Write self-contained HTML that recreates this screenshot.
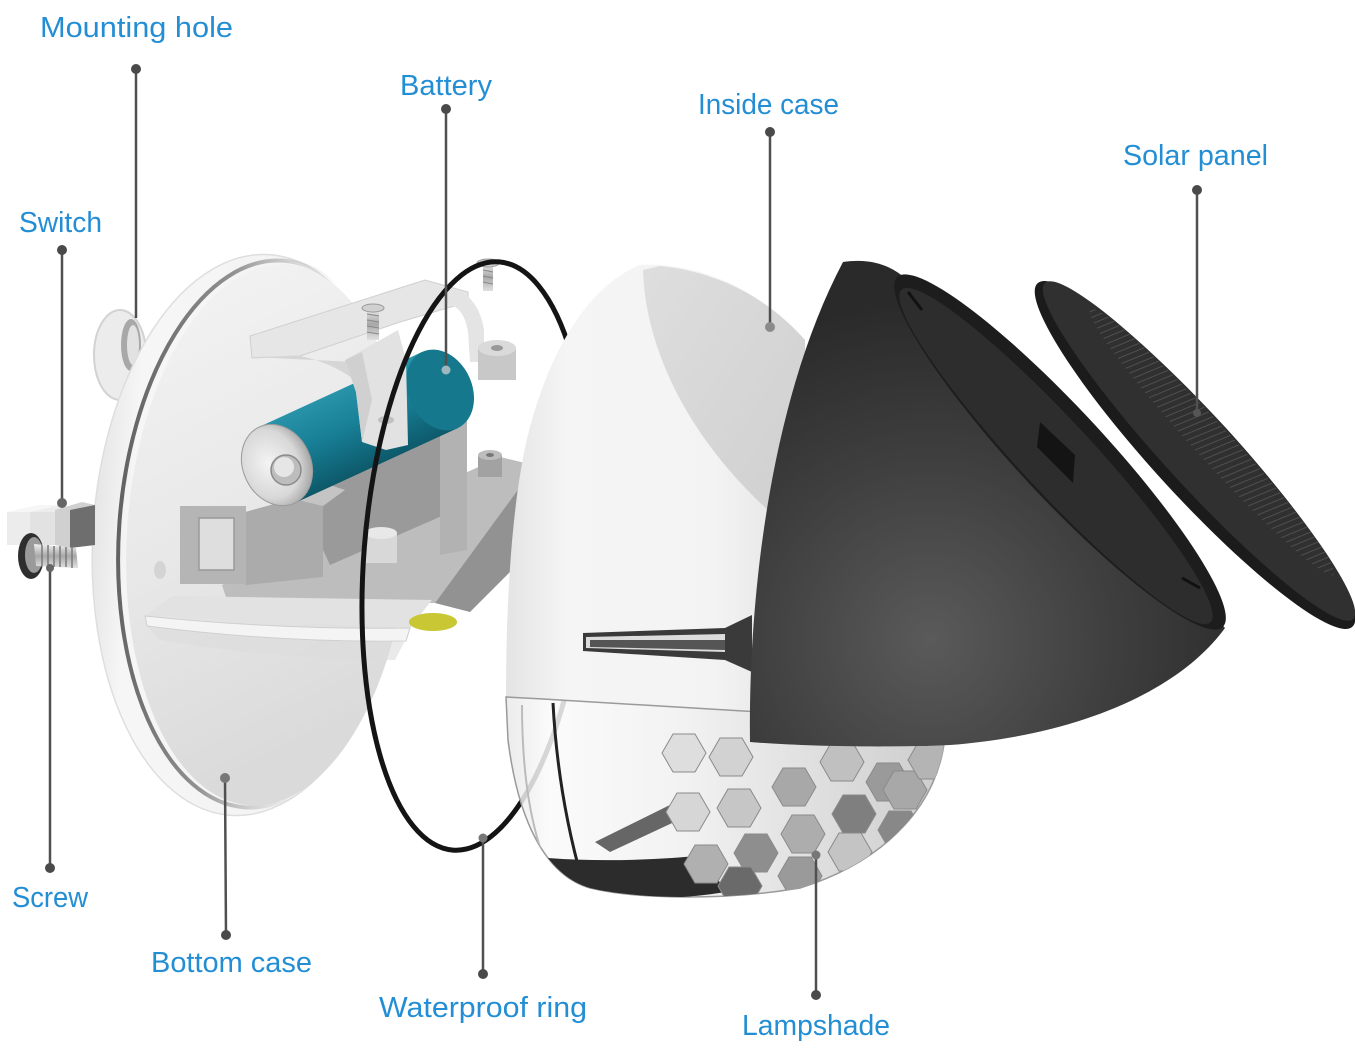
<!DOCTYPE html>
<html><head><meta charset="utf-8"><style>
html,body{margin:0;padding:0;background:#fff;}
svg{display:block;}
.lbl{font-family:"Liberation Sans",Arial,sans-serif;font-size:29px;fill:#238ed4;}
</style></head><body>
<svg width="1355" height="1057" viewBox="0 0 1355 1057" xmlns="http://www.w3.org/2000/svg">
<defs>
 <linearGradient id="discOuter" x1="0" y1="0" x2="1" y2="0">
  <stop offset="0" stop-color="#e6e6e6"/><stop offset="0.12" stop-color="#f6f6f6"/><stop offset="1" stop-color="#f1f1f1"/>
 </linearGradient>
 <linearGradient id="discFace" x1="0" y1="0" x2="0.3" y2="1">
  <stop offset="0" stop-color="#f4f4f4"/><stop offset="0.55" stop-color="#e8e8e8"/><stop offset="1" stop-color="#dadada"/>
 </linearGradient>
 <linearGradient id="groove" gradientUnits="userSpaceOnUse" x1="110" y1="0" x2="320" y2="0">
  <stop offset="0" stop-color="#5e5e5e"/><stop offset="0.5" stop-color="#858585" stop-opacity="0.9"/><stop offset="1" stop-color="#bbbbbb" stop-opacity="0"/>
 </linearGradient>
 <linearGradient id="teal" gradientUnits="userSpaceOnUse" x1="345" y1="380" x2="385" y2="470">
  <stop offset="0" stop-color="#2b97ad"/><stop offset="0.45" stop-color="#187f96"/><stop offset="1" stop-color="#0b5363"/>
 </linearGradient>
 <radialGradient id="cap" cx="0.4" cy="0.45" r="0.6">
  <stop offset="0" stop-color="#f4f4f4"/><stop offset="0.7" stop-color="#d8d8d8"/><stop offset="1" stop-color="#a9a9a9"/>
 </radialGradient>
 <linearGradient id="caseG" x1="0" y1="0" x2="1" y2="0">
  <stop offset="0" stop-color="#e4e4e4"/><stop offset="0.2" stop-color="#f5f5f5"/><stop offset="0.7" stop-color="#f3f3f3"/><stop offset="1" stop-color="#e2e2e2"/>
 </linearGradient>
 <linearGradient id="faceG" x1="0" y1="0" x2="1" y2="1">
  <stop offset="0" stop-color="#dedede"/><stop offset="1" stop-color="#cfcfcf"/>
 </linearGradient>
 <radialGradient id="shellG" gradientUnits="userSpaceOnUse" cx="930" cy="640" r="340">
  <stop offset="0" stop-color="#5a5a5a"/><stop offset="0.55" stop-color="#3e3e3e"/><stop offset="1" stop-color="#2a2a2a"/>
 </radialGradient>
 <linearGradient id="lampG" x1="0" y1="0" x2="1" y2="0">
  <stop offset="0" stop-color="#e8e8e8"/><stop offset="0.1" stop-color="#fafafa"/><stop offset="0.4" stop-color="#f0f0f0"/><stop offset="1" stop-color="#c4c4c4"/>
 </linearGradient>
 <linearGradient id="silver" x1="0" y1="0" x2="0" y2="1">
  <stop offset="0" stop-color="#f0f0f0"/><stop offset="0.5" stop-color="#a8a8a8"/><stop offset="1" stop-color="#e0e0e0"/>
 </linearGradient>
 <pattern id="solarPat" width="6" height="6" patternUnits="userSpaceOnUse" patternTransform="rotate(20)">
  <rect width="6" height="6" fill="#303030"/>
  <line x1="1" y1="0" x2="1" y2="6" stroke="#5a5a5a" stroke-width="0.8"/>
 </pattern>
 <clipPath id="lampClip">
  <path d="M506,697 C600,702 700,708 760,712 L945,735 C940,800 890,860 800,888 C730,900 640,900 590,888 C545,875 518,820 508,740 Z"/>
 </clipPath>
 <polygon id="hx" points="22,0 11,19 -11,19 -22,0 -11,-19 11,-19"/>
</defs>

<rect width="1355" height="1057" fill="#fff"/>

<!-- mounting hole loop -->
<ellipse cx="120" cy="355" rx="26" ry="45" fill="#ececec" stroke="#d2d2d2" stroke-width="2"/>
<ellipse cx="131" cy="345" rx="10" ry="26" fill="#a8a8a8"/>
<ellipse cx="133" cy="345" rx="6" ry="20" fill="#e2e2e2"/>

<!-- bottom case disc -->
<ellipse cx="250" cy="535" rx="157" ry="281" transform="rotate(4 250 535)" fill="url(#discOuter)" stroke="#dedede" stroke-width="1.5"/>
<ellipse cx="264" cy="534" rx="145" ry="274" transform="rotate(4 264 534)" fill="none" stroke="url(#groove)" stroke-width="4"/>
<ellipse cx="268" cy="535" rx="141" ry="271" transform="rotate(4 268 535)" fill="url(#discFace)"/>
<ellipse cx="160" cy="570" rx="6" ry="9" fill="#d4d4d4"/>

<!-- gray plate -->
<polygon points="222,585 500,457 525,463 525,480 435,603 228,603" fill="#bdbdbd"/>
<polygon points="435,603 525,480 522,560 470,612" fill="#929292"/>
<!-- area beneath battery -->
<polygon points="300,500 440,425 467,432 467,505 330,565" fill="#9a9a9a"/>
<!-- holder block -->
<polygon points="245,512 300,497 323,506 323,577 245,585" fill="#ababab"/>
<polygon points="290,498 330,485 345,490 323,506" fill="#c4c4c4"/>
<!-- square frame -->
<rect x="180" y="506" width="66" height="78" fill="#b5b5b5"/>
<rect x="199" y="518" width="35" height="52" fill="#dedede" stroke="#999" stroke-width="1.5"/>
<!-- right wall -->
<polygon points="440,425 467,420 467,550 440,555" fill="#b2b2b2"/>

<!-- battery -->
<polygon points="259,427 422,352 458,428 295,503" fill="url(#teal)"/>
<ellipse cx="440" cy="390" rx="32" ry="42" transform="rotate(-25 440 390)" fill="#15788d"/>
<ellipse cx="277" cy="465" rx="34" ry="42" transform="rotate(-25 277 465)" fill="url(#cap)" stroke="#9a9a9a" stroke-width="1"/>
<circle cx="286" cy="470" r="15" fill="#bdbdbd" stroke="#8a8a8a" stroke-width="1.5"/>
<circle cx="284" cy="467" r="10" fill="#e6e6e6"/>

<!-- boss pins -->
<rect x="365" y="533" width="32" height="30" fill="#d8d8d8"/>
<ellipse cx="381" cy="533" rx="16" ry="6" fill="#e8e8e8"/>
<rect x="478" y="455" width="24" height="22" fill="#a2a2a2"/>
<ellipse cx="490" cy="455" rx="12" ry="5" fill="#bdbdbd"/>
<ellipse cx="490" cy="455" rx="4" ry="2" fill="#777"/>

<!-- top bracket -->
<polygon points="250,336 425,280 468,292 468,302 400,322 300,356 252,358" fill="#e6e6e6" stroke="#cfcfcf" stroke-width="1"/>
<path d="M252,357 L300,356 C320,360 338,368 352,378 L355,362 Z" fill="#d6d6d6"/>
<polygon points="345,360 398,330 406,360 408,445 386,450 362,442 356,392" fill="#e2e2e2"/>
<polygon points="345,360 362,352 372,400 362,442 356,392" fill="#d0d0d0"/>
<ellipse cx="386" cy="420" rx="8" ry="4" fill="#c0c0c0"/>
<path d="M440,290 C462,284 480,302 484,330 L484,362 L470,362 L468,332 C465,312 456,303 440,303 Z" fill="#e4e4e4"/>
<rect x="478" y="348" width="38" height="32" fill="#c8c8c8"/>
<ellipse cx="497" cy="348" rx="19" ry="8" fill="#dadada"/>
<ellipse cx="497" cy="348" rx="6" ry="3" fill="#999"/>
<!-- screws -->
<rect x="367" y="308" width="12" height="32" fill="url(#silver)"/>
<g stroke="#888" stroke-width="1"><line x1="367" y1="314" x2="379" y2="316"/><line x1="367" y1="320" x2="379" y2="322"/><line x1="367" y1="326" x2="379" y2="328"/><line x1="367" y1="332" x2="379" y2="334"/></g>
<ellipse cx="373" cy="308" rx="11" ry="4" fill="#d0d0d0" stroke="#999"/>
<rect x="483" y="263" width="10" height="28" fill="url(#silver)"/>
<g stroke="#888" stroke-width="1"><line x1="483" y1="270" x2="493" y2="272"/><line x1="483" y1="276" x2="493" y2="278"/><line x1="483" y1="282" x2="493" y2="284"/></g>
<ellipse cx="488" cy="263" rx="11" ry="4" fill="#d0d0d0" stroke="#999"/>

<!-- white shelf -->
<polygon points="145,616 172,596 432,600 410,628" fill="#e2e2e2"/>
<path d="M145,616 Q280,630 410,628 L406,641 Q280,643 147,626 Z" fill="#f4f4f4" stroke="#cfcfcf" stroke-width="1"/>
<path d="M148,627 Q280,644 405,641 L395,660 Q280,660 160,640 Z" fill="#dcdcdc" opacity="0.6"/>
<!-- yellow bit -->
<ellipse cx="433" cy="622" rx="24" ry="9" fill="#c9c734"/>

<!-- waterproof ring -->
<ellipse cx="476" cy="556" rx="112" ry="295" transform="rotate(4.5 476 556)" fill="none" stroke="#141414" stroke-width="5"/>

<!-- inside case -->
<path d="M506,697 C506,600 512,480 535,410 C555,345 590,285 640,265 C700,262 760,290 805,340 L805,714 C700,712 600,702 506,697 Z" fill="url(#caseG)"/>
<path d="M643,270 C645,340 680,430 770,512 L805,520 L805,340 C770,300 720,272 660,266 Z" fill="url(#faceG)"/>
<polygon points="583,633 725,628 752,615 752,672 725,660 583,651" fill="#3a3a3a"/>
<polygon points="586,637 725,634 725,652 586,648" fill="#dcdcdc"/>
<polygon points="590,640 725,640 725,650 590,647" fill="#555"/>

<!-- lampshade -->
<path d="M506,697 C600,702 700,708 760,712 L945,735 C940,800 890,860 800,888 C730,900 640,900 590,888 C545,875 518,820 508,740 Z" fill="url(#lampG)" fill-opacity="0.85" stroke="#9a9a9a" stroke-width="1.5"/>
<g clip-path="url(#lampClip)">
 <path d="M553,703 C556,760 565,820 582,880" stroke="#222" stroke-width="3" fill="none"/>
 <path d="M522,705 C522,780 532,830 548,870" stroke="#bbb" stroke-width="2" fill="none"/>
 <path d="M548,858 C600,862 660,860 705,855 L725,892 C680,900 620,900 580,892 C565,882 555,870 548,858 Z" fill="#2c2c2c"/>
 <path d="M595,842 L680,800 L700,810 L610,852 Z" fill="#666"/>
 <g stroke="#8a8a8a" stroke-width="1">
  <use href="#hx" transform="translate(684,753)" fill="#dedede"/>
  <use href="#hx" transform="translate(731,757)" fill="#d2d2d2"/>
  <use href="#hx" transform="translate(688,812)" fill="#d6d6d6"/>
  <use href="#hx" transform="translate(739,808)" fill="#c6c6c6"/>
  <use href="#hx" transform="translate(794,787)" fill="#a8a8a8"/>
  <use href="#hx" transform="translate(842,762)" fill="#c0c0c0"/>
  <use href="#hx" transform="translate(888,782)" fill="#9a9a9a"/>
  <use href="#hx" transform="translate(706,864)" fill="#b0b0b0"/>
  <use href="#hx" transform="translate(756,853)" fill="#8e8e8e"/>
  <use href="#hx" transform="translate(803,834)" fill="#adadad"/>
  <use href="#hx" transform="translate(854,814)" fill="#7f7f7f"/>
  <use href="#hx" transform="translate(905,790)" fill="#a8a8a8"/>
  <use href="#hx" transform="translate(740,886)" fill="#6a6a6a"/>
  <use href="#hx" transform="translate(800,876)" fill="#9a9a9a"/>
  <use href="#hx" transform="translate(850,852)" fill="#c4c4c4"/>
  <use href="#hx" transform="translate(900,830)" fill="#888"/>
  <use href="#hx" transform="translate(930,760)" fill="#b4b4b4"/>
 </g>
</g>

<!-- black shell -->
<path d="M750,742 C748,600 770,400 843,262 C870,258 890,265 905,278 L1225,628 C1180,690 1080,735 950,745 C880,748 800,746 750,742 Z" fill="url(#shellG)"/>
<ellipse cx="1060" cy="452" rx="239" ry="44" transform="rotate(47.1 1060 452)" fill="#1d1d1d"/>
<ellipse cx="1056" cy="456" rx="227" ry="36" transform="rotate(47.1 1056 456)" fill="#2d2d2d"/>
<polygon points="1040,422 1075,455 1073,483 1037,447" fill="#141414"/>
<line x1="908" y1="292" x2="922" y2="310" stroke="#111" stroke-width="3"/>
<line x1="1182" y1="578" x2="1200" y2="588" stroke="#111" stroke-width="3"/>

<!-- solar panel -->
<ellipse cx="1195" cy="455" rx="233" ry="41" transform="rotate(47.5 1195 455)" fill="#1b1b1b"/>
<ellipse cx="1199" cy="451" rx="228" ry="35" transform="rotate(47.5 1199 451)" fill="#303030"/>
<ellipse cx="1212" cy="442" rx="180" ry="18" transform="rotate(47.5 1212 442)" fill="url(#solarPat)" opacity="0.9"/>

<!-- switch -->
<polygon points="7,512 40,505 62,505 62,545 7,545" fill="#ececec"/>
<polygon points="7,512 40,505 62,505 30,512" fill="#f6f6f6"/>
<rect x="30" y="512" width="25" height="33" fill="#e2e2e2"/>
<polygon points="55,510 82,502 95,505 95,545 70,548 55,545" fill="#d0d0d0"/>
<polygon points="70,510 95,505 95,545 70,548" fill="#6e6e6e"/>
<!-- screw -->
<ellipse cx="31" cy="556" rx="13" ry="23" fill="#2e2e2e"/>
<ellipse cx="34" cy="555" rx="9" ry="18" fill="#9a9a9a"/>
<polygon points="34,544 76,548 78,568 36,566" fill="url(#silver)"/>
<g stroke="#7a7a7a" stroke-width="1.5"><line x1="42" y1="545" x2="42" y2="566"/><line x1="48" y1="545" x2="48" y2="566"/><line x1="54" y1="546" x2="54" y2="567"/><line x1="60" y1="546" x2="60" y2="567"/><line x1="66" y1="547" x2="66" y2="567"/><line x1="72" y1="547" x2="72" y2="568"/></g>

<!-- connector lines -->
<g stroke="#505050" stroke-width="2.5" fill="none">
 <line x1="136" y1="69" x2="136" y2="318"/>
 <line x1="446" y1="109" x2="446" y2="370"/>
 <line x1="62" y1="250" x2="62" y2="503"/>
 <line x1="770" y1="132" x2="770" y2="327"/>
 <line x1="1197" y1="190" x2="1197" y2="413"/>
 <line x1="50" y1="568" x2="50" y2="868"/>
 <line x1="225" y1="778" x2="226" y2="935"/>
 <line x1="483" y1="838" x2="483" y2="974"/>
 <line x1="816" y1="855" x2="816" y2="995"/>
</g>
<g fill="#4a4a4a">
 <circle cx="136" cy="69" r="5"/>
 <circle cx="446" cy="109" r="5"/>
 <circle cx="62" cy="250" r="5"/>
 <circle cx="770" cy="132" r="5"/>
 <circle cx="1197" cy="190" r="5"/>
 <circle cx="50" cy="868" r="5"/>
 <circle cx="226" cy="935" r="5"/>
 <circle cx="483" cy="974" r="5"/>
 <circle cx="816" cy="995" r="5"/>
</g>
<g>
 <circle cx="446" cy="370" r="4.5" fill="#9fb8bf"/>
 <circle cx="770" cy="327" r="5" fill="#8a8a8a"/>
 <circle cx="62" cy="503" r="5" fill="#666"/>
 <circle cx="50" cy="568" r="4" fill="#666"/>
 <circle cx="225" cy="778" r="5" fill="#777"/>
 <circle cx="483" cy="838" r="4.5" fill="#777"/>
 <circle cx="816" cy="855" r="4.5" fill="#777"/>
 <circle cx="1197" cy="413" r="4" fill="#555"/>
</g>

<!-- labels -->
<text class="lbl" x="40" y="37" textLength="193" lengthAdjust="spacingAndGlyphs">Mounting hole</text>
<text class="lbl" x="400" y="95" textLength="92" lengthAdjust="spacingAndGlyphs">Battery</text>
<text class="lbl" x="19" y="232" textLength="83" lengthAdjust="spacingAndGlyphs">Switch</text>
<text class="lbl" x="698" y="114" textLength="141" lengthAdjust="spacingAndGlyphs">Inside case</text>
<text class="lbl" x="1123" y="165" textLength="145" lengthAdjust="spacingAndGlyphs">Solar panel</text>
<text class="lbl" x="12" y="907" textLength="76" lengthAdjust="spacingAndGlyphs">Screw</text>
<text class="lbl" x="151" y="972" textLength="161" lengthAdjust="spacingAndGlyphs">Bottom case</text>
<text class="lbl" x="379" y="1017" textLength="208" lengthAdjust="spacingAndGlyphs">Waterproof ring</text>
<text class="lbl" x="742" y="1035" textLength="148" lengthAdjust="spacingAndGlyphs">Lampshade</text>
</svg>
</body></html>
